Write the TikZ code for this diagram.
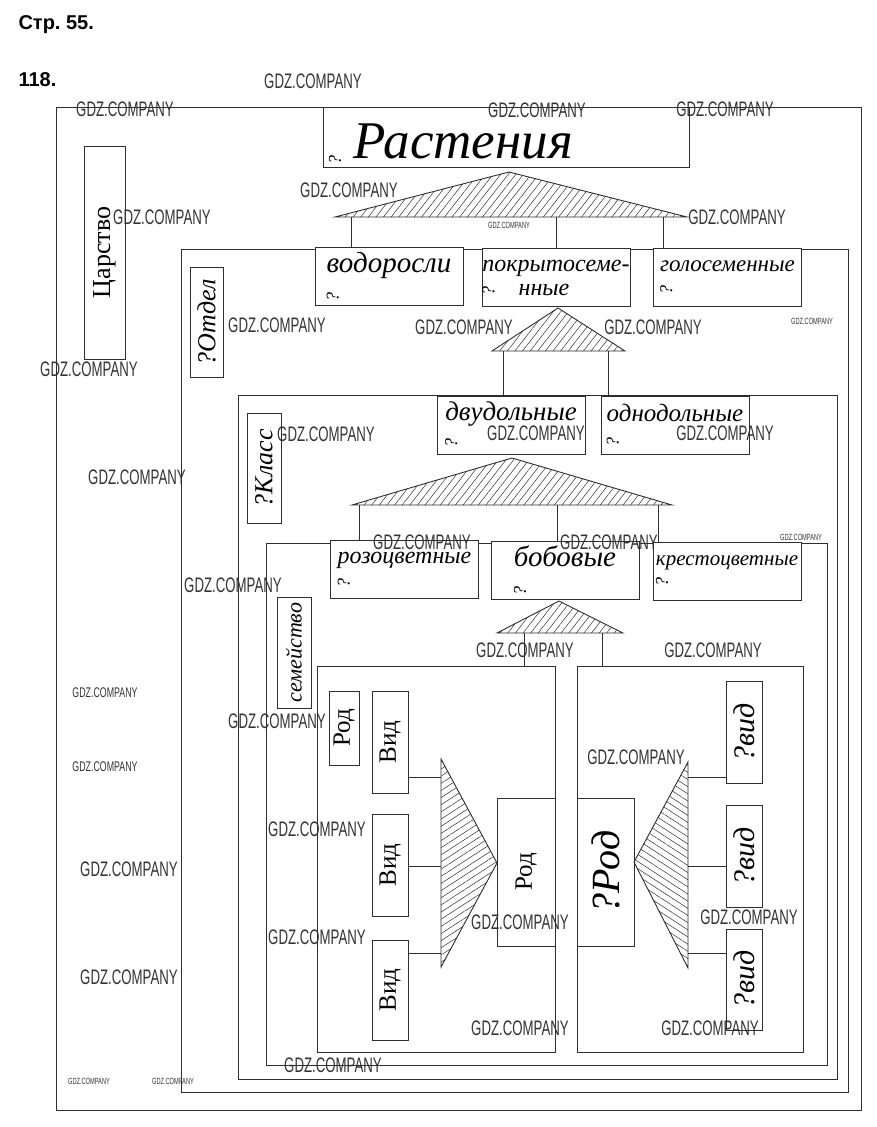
\documentclass[tikz,border=0pt]{standalone}
\usepackage{fontspec}
\setmainfont{Liberation Serif}
\setsansfont{Liberation Sans}
\usepackage{xcolor}
\usepackage{graphicx}
\usepackage{tikz}
\usetikzlibrary{patterns.meta}
\frenchspacing

\definecolor{ink}{gray}{0.18}
\newcommand{\hw}[1]{\fontsize{#1}{#1}\selectfont\itshape}
\newcommand{\pr}[1]{\fontsize{#1}{#1}\selectfont}
\newcommand{\qmark}{\rotatebox{90}{\fontsize{18}{18}\selectfont\itshape ?}}
\newcommand{\gdz}[1]{\scalebox{0.63}[1]{\fontsize{#1}{#1}\selectfont\sffamily GDZ.COMPANY}}

\tikzstyle{frame} = [draw=ink, line width=0.9pt]
\tikzstyle{box} = [rectangle, draw=ink, fill=white, line width=0.9pt, inner sep=0pt, outer sep=0pt]
\tikzstyle{catbox} = [box, minimum width=148pt, minimum height=58pt, align=left]
\tikzstyle{rankbox} = [box, minimum width=34pt, minimum height=110pt]
\tikzstyle{vidbox} = [box, minimum width=36pt, minimum height=102pt]
\tikzstyle{hatch} = [draw=ink, line width=0.9pt, pattern color=ink]
\tikzstyle{link} = [draw=ink, line width=0.9pt]
\tikzstyle{wmark} = [inner sep=0pt, text=black!80]

\begin{document}
\begin{tikzpicture}[x=1pt, y=-1pt]
  \useasboundingbox (0,0) rectangle (877,1127);

  \node (pageno) [anchor=base west, font=\sffamily\bfseries\pr{20}] at (15,29) {Стр. 55.};
  \node (taskno) [anchor=base west, font=\sffamily\bfseries\pr{20}] at (15,86) {118.};

  % nested frames
  \draw[frame] (56,107) rectangle (861,1110);
  \draw[frame] (181,249) rectangle (848,1092);
  \draw[frame] (238,395) rectangle (837,1079);
  \draw[frame] (266,543) rectangle (827,1065);

  \node (kingdom) [box, minimum width=41pt, minimum height=213pt] at (104.5,252.5) {\rotatebox{90}{\pr{26}Царство}};
  \node (plants) [box, minimum width=366pt, minimum height=60pt, text width=354pt, align=left,
      text height=43pt, text depth=1pt] at (506,137)
    {\raisebox{-6pt}{\qmark}\hspace{12pt}{\hw{53}Растения}};

  % division
  \coordinate (t1top) at (509,172);
  \coordinate (t1l) at (335,217);
  \coordinate (t1r) at (687,217);
  \draw[hatch, pattern={Lines[angle=52,distance=6pt,line width=0.5pt]}] (t1top) -- (t1r) -- (t1l) -- cycle;

  \node (divlbl) [rankbox, minimum width=33pt] at (206.5,322) {\rotatebox{90}{\hw{26}?Отдел}};
  \node (algae) [catbox, font=\hw{29}] at (389,276.5) {водоросли\\\qmark};
  \node (angio) [catbox, font=\hw{24}] at (556,277.5) {покрытосеме-\\\qmark\quad нные};
  \node (gymno) [catbox, font=\hw{23}] at (727.5,277.5) {голосеменные\\\qmark};
  \draw[link] (t1l -| 351,0) -- (algae.north -| 351,0);
  \draw[link] (t1l -| 556,0) -- (angio.north -| 556,0);
  \draw[link] (t1l -| 663,0) -- (gymno.north -| 663,0);

  % class
  \coordinate (t2top) at (558,308);
  \coordinate (t2l) at (492,351);
  \coordinate (t2r) at (625,351);
  \draw[hatch, pattern={Lines[angle=52,distance=6pt,line width=0.5pt]}] (t2top) -- (t2r) -- (t2l) -- cycle;

  \node (classlbl) [rankbox] at (264,468) {\rotatebox{90}{\hw{26}?Класс}};
  \node (dicots) [catbox, font=\hw{27}] at (511,425) {двудольные\\\qmark};
  \node (monocots) [catbox, font=\hw{25}] at (675,425) {однодольные\\\qmark};
  \draw[link] (t2l -| 503,0) -- (dicots.north -| 503,0);
  \draw[link] (t2l -| 608,0) -- (monocots.north -| 608,0);

  % family
  \coordinate (t3top) at (512,458);
  \coordinate (t3l) at (352,505);
  \coordinate (t3r) at (672,505);
  \draw[hatch, pattern={Lines[angle=52,distance=6pt,line width=0.5pt]}] (t3top) -- (t3r) -- (t3l) -- cycle;

  \node (famlbl) [rankbox, minimum height=111pt] at (294,652.5) {\rotatebox{90}{\hw{22}семейство}};
  \node (rose) [catbox, font=\hw{24}] at (404.5,569.5) {розоцветные\\\qmark};
  \node (legume) [catbox, font=\hw{29}] at (565,570.5) {бобовые\\\qmark};
  \node (crucif) [catbox, font=\hw{21}] at (727,571.5) {крестоцветные\\\qmark};
  \draw[link] (t3l -| 359,0) -- (rose.north -| 359,0);
  \draw[link] (t3l -| 557,0) -- (legume.north -| 557,0);
  \draw[link] (t3l -| 658,0) -- (crucif.north -| 658,0);

  % genus
  \coordinate (t4top) at (559,601);
  \coordinate (t4l) at (497,633);
  \coordinate (t4r) at (623,633);
  \draw[hatch, pattern={Lines[angle=52,distance=6pt,line width=0.5pt]}] (t4top) -- (t4r) -- (t4l) -- cycle;

  \node (genusA) [box, minimum width=238pt, minimum height=386pt] at (436,859) {};
  \node (genusB) [box, minimum width=226pt, minimum height=386pt] at (690,859) {};
  \draw[link] (t4l -| 524,0) -- (genusA.north -| 524,0);
  \draw[link] (t4l -| 602,0) -- (genusB.north -| 602,0);

  % left genus: species -> genus
  \node (genusAlbl) [box, minimum width=30pt, minimum height=74pt] at (344,728) {\rotatebox{90}{\pr{25}Род}};
  \node (spA1) [vidbox] at (390,742) {\rotatebox{90}{\pr{25}Вид}};
  \node (spA2) [vidbox] at (390,865) {\rotatebox{90}{\pr{25}Вид}};
  \node (spA3) [vidbox, minimum height=100pt] at (390,990) {\rotatebox{90}{\pr{25}Вид}};
  \node (genusAbig) [box, minimum width=58pt, minimum height=148pt] at (526,872) {\rotatebox{90}{\pr{25}Род}};
  \coordinate (t5top) at (441,759);
  \coordinate (t5bot) at (441,967);
  \coordinate (t5tip) at (497,863);
  \draw[hatch, pattern={Lines[angle=33,distance=6pt,line width=0.5pt]}] (t5top) -- (t5tip) -- (t5bot) -- cycle;
  \draw[link] (spA1.east |- 0,777) -- (t5top |- 0,777);
  \draw[link] (spA2.east |- 0,866) -- (t5top |- 0,866);
  \draw[link] (spA3.east |- 0,953) -- (t5top |- 0,953);

  % right genus: genus -> species
  \node (genusBlbl) [box, minimum width=57pt, minimum height=148pt] at (605.5,872) {\rotatebox{90}{\hw{40}?Род}};
  \node (spB1) [vidbox] at (744,732) {\rotatebox{90}{\hw{30}?вид}};
  \node (spB2) [vidbox] at (744,856) {\rotatebox{90}{\hw{30}?вид}};
  \node (spB3) [vidbox, minimum height=101pt] at (744,979.5) {\rotatebox{90}{\hw{30}?вид}};
  \coordinate (t6top) at (688,762);
  \coordinate (t6bot) at (688,968);
  \coordinate (t6tip) at (634,862);
  \draw[hatch, pattern={Lines[angle=-33,distance=6pt,line width=0.5pt]}] (t6top) -- (t6tip) -- (t6bot) -- cycle;
  \draw[link] (t6top |- 0,777) -- (spB1.west |- 0,777);
  \draw[link] (t6top |- 0,866) -- (spB2.west |- 0,866);
  \draw[link] (t6top |- 0,953) -- (spB3.west |- 0,953);

  % watermarks
  \foreach \x/\y in {313/81, 125/109, 537/110, 725/109, 349/190, 162/217, 737/217,
      277/325, 464/327, 653/327, 89/369, 326/434, 536/433, 725/433, 137/477,
      422/542, 609/542, 233/585, 525/650, 713/650, 277/721, 636/757, 317/829,
      129/869, 520/922, 749/917, 317/937, 129/977, 520/1028, 710/1028, 333/1065}
    \node (wm\x-\y) [wmark] at (\x,\y) {\gdz{21}};
  \foreach \x/\y in {105/693, 105/767}
    \node (wm\x-\y) [wmark] at (\x,\y) {\gdz{14}};
  \foreach \x/\y in {509/225, 812/321, 801/537, 89/1081, 173/1081}
    \node (wm\x-\y) [wmark] at (\x,\y) {\gdz{9}};
\end{tikzpicture}
\end{document}
